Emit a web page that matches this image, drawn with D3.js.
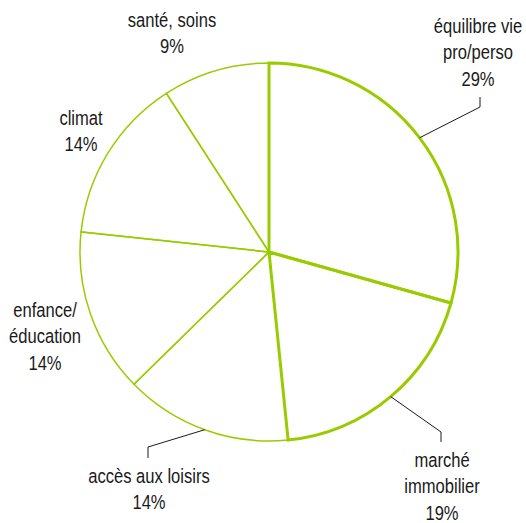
<!DOCTYPE html>
<html>
<head>
<meta charset="utf-8">
<script src="https://cdn.jsdelivr.net/npm/d3@7"></script>
<style>
  html, body { margin: 0; padding: 0; background: #ffffff; }
  svg { display: block; }
  text { font-family: "Liberation Sans", Arial, sans-serif; font-size: 19.5px; fill: #1a1a1a; }
</style>
</head>
<body>
<svg id="chart" width="526" height="523"></svg>
<script>
// ---- data ----
const categories = ["équilibre vie pro/perso", "marché immobilier", "accès aux loisirs", "enfance/éducation", "climat", "santé, soins"];
const values = [29.35, 19.04, 14.28, 14.03, 14.17, 9.14];
const percentLabels = ["29%", "19%", "14%", "14%", "14%", "9%"];
const labelLines = [
  ["équilibre vie", "pro/perso"],
  ["marché", "immobilier"],
  ["accès aux loisirs"],
  ["enfance/", "éducation"],
  ["climat"],
  ["santé, soins"]
];

// ---- layout / style (kept separate from data) ----
const W = 526, H = 523;
const cx = 269, cy = 252, R = 189;
const green = "#99cc00";
const strokeWidths = [3, 3, 1.5, 1.5, 1.5, 1.5];
const lineHeight = 26.5;
const textScaleX = 0.85;
// label anchor: centre x and first baseline y
const labelPos = [
  {x: 478, y: 33, elbow: [480, 107], top: [480, 97]},
  {x: 442, y: 467, elbow: [441, 432], top: [441, 442]},
  {x: 149, y: 483, elbow: [148, 447], top: [148, 458]},
  {x: 45, y: 317},
  {x: 81, y: 125},
  {x: 172, y: 27}
];

const svg = d3.select("#chart");
const g = svg.append("g").attr("transform", `translate(${cx},${cy})`);

const data = categories.map((c, i) => ({cat: c, value: values[i], i}));
const pie = d3.pie().sort(null).value(d => d.value);
const arcs = pie(data);
const arc = d3.arc().innerRadius(0).outerRadius(R);

// white fill underlay
g.append("path")
  .attr("d", d3.arc().innerRadius(0).outerRadius(R).startAngle(0).endAngle(2 * Math.PI)())
  .attr("fill", "#ffffff");

// draw thin slices first, thick on top
const order = arcs.slice().sort((a, b) => strokeWidths[a.data.i] - strokeWidths[b.data.i]);
g.selectAll("path.slice")
  .data(order)
  .enter().append("path")
  .attr("class", "slice")
  .attr("d", arc)
  .attr("fill", "none")
  .attr("stroke", green)
  .attr("stroke-width", d => strokeWidths[d.data.i])
  .attr("stroke-linejoin", "miter");

// leader lines
arcs.forEach(a => {
  const lp = labelPos[a.data.i];
  if (!lp.elbow) return;
  const mid = (a.startAngle + a.endAngle) / 2;
  const sx = cx + R * Math.sin(mid), sy = cy - R * Math.cos(mid);
  svg.append("polyline")
    .attr("points", [[sx, sy], lp.elbow, lp.top].map(p => p.join(",")).join(" "))
    .attr("fill", "none")
    .attr("stroke", "#1a1a1a")
    .attr("stroke-width", 1);
});

// labels (slightly condensed, like the reference)
arcs.forEach(a => {
  const i = a.data.i;
  const lp = labelPos[i];
  const lines = labelLines[i].concat([percentLabels[i]]);
  const t = svg.append("text")
    .attr("text-anchor", "middle")
    .attr("transform", `translate(${lp.x},${lp.y}) scale(${textScaleX},1)`);
  lines.forEach((ln, k) => {
    t.append("tspan").attr("x", 0).attr("y", k * lineHeight).text(ln);
  });
});
</script>
</body>
</html>
